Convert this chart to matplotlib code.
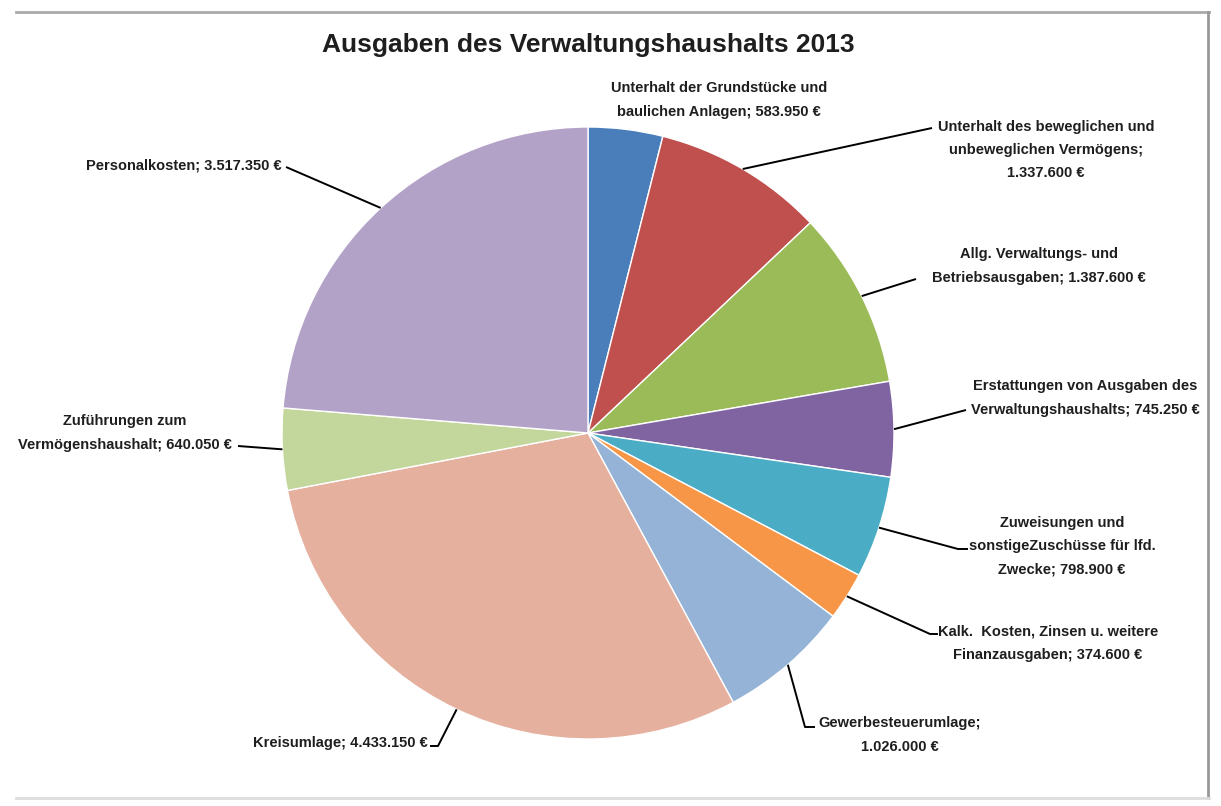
import numpy as np
import matplotlib.pyplot as plt

# Daten
labels = [
    "Unterhalt der Grundstücke und\nbaulichen Anlagen; 583.950 €",
    "Unterhalt des beweglichen und\nunbeweglichen Vermögens;\n1.337.600 €",
    "Allg. Verwaltungs- und\nBetriebsausgaben; 1.387.600 €",
    "Erstattungen von Ausgaben des\nVerwaltungshaushalts; 745.250 €",
    "Zuweisungen und\nsonstigeZuschüsse für lfd.\nZwecke; 798.900 €",
    "Kalk.  Kosten, Zinsen u. weitere\nFinanzausgaben; 374.600 €",
    "Gewerbesteuerumlage;\n1.026.000 €",
    "Kreisumlage; 4.433.150 €",
    "Zuführungen zum\nVermögenshaushalt; 640.050 €",
    "Personalkosten; 3.517.350 €",
]
values = [583950, 1337600, 1387600, 745250, 798900, 374600, 1026000, 4433150, 640050, 3517350]
colors = ["#4a7ebb", "#c0504d", "#9bbb59", "#8064a2", "#4bacc6",
          "#f79646", "#95b3d7", "#e6b09f", "#c3d69b", "#b3a2c7"]

# Layout (Pixel): Textmitte und Knickpunkte der Führungslinien
label_pos = [(719, 100), (1046, 150), (1039, 266), (1085, 398), (1062, 546),
             (1048, 643), (900, 735), (340, 743), (125, 433), (184, 165)]
leader_pts = [
    None,
    [(932, 128)],
    [(916, 279)],
    [(966, 410)],
    [(958, 549), (968, 549)],
    [(930, 634), (938, 634)],
    [(805, 727), (815, 727)],
    [(438, 746), (430, 746)],
    [(238, 446)],
    [(286, 167)],
]

W, H = 1221, 806
CX, CY, R = 588, 433, 306

plt.rcParams['font.family'] = ['Liberation Sans', 'DejaVu Sans']

fig = plt.figure(figsize=(W / 100, H / 100), dpi=100)
ax = fig.add_axes([0, 0, 1, 1])

wedges, _ = ax.pie(values, colors=colors, startangle=90, counterclock=False,
                   center=(CX, H - CY), radius=R,
                   wedgeprops=dict(edgecolor='white', linewidth=1))
ax.set_xlim(0, W)
ax.set_ylim(0, H)
ax.set_aspect('equal')
ax.axis('off')

for w, lab, (tx, ty), pts in zip(wedges, labels, label_pos, leader_pts):
    ax.text(tx, H - ty, lab, ha='center', va='center', fontsize=10.5,
            fontweight='bold', color='#1e1e1e', linespacing=1.85)
    if pts is None:
        continue
    mid = np.deg2rad((w.theta1 + w.theta2) / 2)
    xs = [CX + R * np.cos(mid)] + [p[0] for p in pts]
    ys = [(H - CY) + R * np.sin(mid)] + [H - p[1] for p in pts]
    ax.plot(xs, ys, color='black', lw=1.4, solid_capstyle='butt')

ax.text(588, H - 45, "Ausgaben des Verwaltungshaushalts 2013", ha='center',
        va='center', fontsize=19, fontweight='bold', color='#1e1e1e')

# Rahmen
ax.plot([16, 1209], [H - 11.5, H - 11.5], color='#aaaaaa', lw=2)
ax.plot([1208, 1208], [H - 11.5, H - 798], color='#999999', lw=2)
ax.plot([16, 1209], [H - 798, H - 798], color='#dddddd', lw=2)

fig.savefig("out.png", dpi=100)
